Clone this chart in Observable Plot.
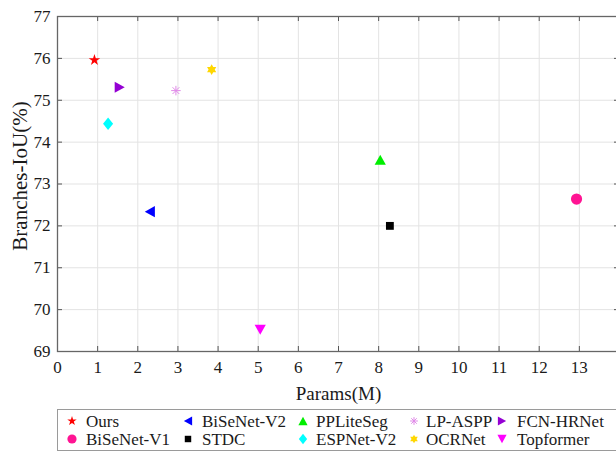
<!DOCTYPE html>
<html>
<head>
<meta charset="utf-8">
<script src="https://cdn.jsdelivr.net/npm/d3@7"></script>
<script src="https://cdn.jsdelivr.net/npm/@observablehq/plot@0.6"></script>
<style>
  html, body { margin: 0; padding: 0; background: #fff; }
  #chart svg { display: block; overflow: visible; }
</style>
</head>
<body>
<div id="chart"></div>
<script>
// ---- data ----
const methods = ["Ours", "BiSeNet-V1", "BiSeNet-V2", "STDC", "PPLiteSeg", "ESPNet-V2", "LP-ASPP", "OCRNet", "FCN-HRNet", "Topformer"];
const params  = [0.92, 12.93, 2.30, 8.28, 8.04, 1.26, 2.95, 3.84, 1.55, 5.05];
const miou    = [75.96, 72.64, 72.34, 72.00, 73.58, 74.44, 75.23, 75.73, 75.31, 69.52];
const xTicks  = [0, 1, 2, 3, 4, 5, 6, 7, 8, 9, 10, 11, 12, 13];
const yTicks  = [69, 70, 71, 72, 73, 74, 75, 76, 77];
// legend order (5 columns x 2 rows, column-major like MATLAB)
const legendOrder = ["Ours", "BiSeNet-V1", "BiSeNet-V2", "STDC", "PPLiteSeg", "ESPNet-V2", "LP-ASPP", "OCRNet", "FCN-HRNet", "Topformer"];

// ---- styles ----
const colors = {
  "Ours": "#ff0000", "BiSeNet-V1": "#ff1493", "BiSeNet-V2": "#0000ff", "STDC": "#000000",
  "PPLiteSeg": "#00ee00", "ESPNet-V2": "#00ffff", "LP-ASPP": "#e08ae8", "OCRNet": "#ffd700",
  "FCN-HRNet": "#9400d3", "Topformer": "#ff00ff"
};
const rad = s => Math.sqrt(s / Math.PI);
const poly = (ctx, pts) => { ctx.moveTo(pts[0][0], pts[0][1]); for (let i = 1; i < pts.length; i++) ctx.lineTo(pts[i][0], pts[i][1]); ctx.closePath(); };
const rot = (pts, a) => pts.map(([x, y]) => [x * Math.cos(a) - y * Math.sin(a), x * Math.sin(a) + y * Math.cos(a)]);
const tri = a => ({ draw(ctx, s) { const r = rad(s); poly(ctx, rot([[0, -r], [r, 0.8 * r], [-r, 0.8 * r]].map(([x, y]) => [x, y + 0.1 * r]), a)); } });
const pentagram = { draw(ctx, s) { const R = rad(s) * 1.08, ri = R * 0.382, pts = [];
  for (let i = 0; i < 10; i++) { const a = -Math.PI / 2 + i * Math.PI / 5, rr = i % 2 ? ri : R; pts.push([rr * Math.cos(a), rr * Math.sin(a)]); } poly(ctx, pts); } };
const hexagram = { draw(ctx, s) { const R = rad(s) * 0.95, c = 0.866 * R;
  poly(ctx, [[0, -R], [c, R / 2], [-c, R / 2]]); poly(ctx, [[0, R], [-c, -R / 2], [c, -R / 2]]); } };
const circ = { draw(ctx, s) { const r = rad(s); ctx.moveTo(r, 0); ctx.arc(0, 0, r, 0, 2 * Math.PI); } };
const sq = { draw(ctx, s) { const h = rad(s) * 0.7; poly(ctx, [[-h, -h], [h, -h], [h, h], [-h, h]]); } };
const diam = { draw(ctx, s) { const r = rad(s), w = 0.9 * r, h = 1.12 * r; poly(ctx, [[0, -h], [w, 0], [0, h], [-w, 0]]); } };
const aster = { draw(ctx, s) { const a = rad(s) * 0.85;
  for (let i = 0; i < 4; i++) { const t = i * Math.PI / 4; ctx.moveTo(a * Math.cos(t), a * Math.sin(t)); ctx.lineTo(-a * Math.cos(t), -a * Math.sin(t)); } } };
const shapes = {
  "Ours": pentagram, "BiSeNet-V1": circ, "BiSeNet-V2": tri(-Math.PI / 2), "STDC": sq,
  "PPLiteSeg": tri(0), "ESPNet-V2": diam, "LP-ASPP": aster, "OCRNet": hexagram,
  "FCN-HRNet": tri(Math.PI / 2), "Topformer": tri(Math.PI)
};
const R = 5.6;

const rows = methods.map((m, i) => ({ method: m, params: params[i], miou: miou[i] }));

const W = 616, H = 452, mL = 57, mT = 16, mB = 101, mR = -3;
const frameH = H - mT - mB, frameW = W - mL - mR;
const tickLen = 5;
const font = "'Liberation Serif', 'Times New Roman', serif";

const pointMarks = rows.map(d => d.method === "LP-ASPP"
  ? Plot.dot([d], { x: "params", y: "miou", r: R, symbol: shapes[d.method], stroke: colors[d.method], strokeWidth: 1, fill: "none" })
  : Plot.dot([d], { x: "params", y: "miou", r: R, symbol: shapes[d.method], fill: colors[d.method], stroke: "none" }));

const chart = Plot.plot({
  width: W, height: H,
  marginLeft: mL, marginTop: mT, marginBottom: mB, marginRight: mR,
  style: { fontFamily: font, fontSize: "17px", color: "#1a1a1a", background: "#fff" },
  x: { domain: [0, 14] },
  y: { domain: [69, 77] },
  marks: [
    Plot.gridX({ ticks: xTicks.concat([14]), stroke: "#e3e3e3", strokeOpacity: 1 }),
    Plot.gridY({ ticks: yTicks, stroke: "#e3e3e3", strokeOpacity: 1 }),
    Plot.axisX({ ticks: xTicks, tickSize: 0, tickPadding: 9, fontSize: 17, label: null, tickFormat: d => String(d) }),
    Plot.axisY({ ticks: yTicks, tickSize: 0, tickPadding: 7, fontSize: 17, label: null, tickFormat: d => String(d) }),
    Plot.ruleX(xTicks.concat([14]), { x: d => d, insetTop: frameH - tickLen, stroke: "#555" }),
    Plot.ruleX(xTicks.concat([14]), { x: d => d, insetBottom: frameH - tickLen, stroke: "#555" }),
    Plot.ruleY(yTicks, { y: d => d, insetRight: frameW - tickLen, stroke: "#555" }),
    Plot.ruleY(yTicks, { y: d => d, insetLeft: frameW - tickLen, stroke: "#555" }),
    Plot.frame({ stroke: "#666", strokeWidth: 1.3 }),
    ...pointMarks,
    Plot.text(["Params(M)"], { frameAnchor: "bottom", dy: 48, fontSize: 19, fill: "#1a1a1a" }),
    Plot.text(["Branches-IoU(%)"], { frameAnchor: "left", textAnchor: "middle", dx: -37, dy: -8, rotate: -90, fontSize: 21, fill: "#1a1a1a" })
  ]
});
document.getElementById("chart").appendChild(chart);

// ---- legend (drawn in the same SVG) ----
const svg = d3.select(chart);
const lg = svg.append("g").attr("font-family", font).attr("font-size", 17).attr("fill", "#1a1a1a").attr("text-anchor", "start");
lg.append("rect").attr("x", 57.5).attr("y", 409.5).attr("width", 570).attr("height", 41)
  .attr("fill", "#fff").attr("stroke", "#9a9a9a").attr("stroke-width", 1);
const colSym = [72, 188, 303, 414, 502];
const colTxt = [86, 202, 316, 426, 517];
const rowY = [421, 439];
legendOrder.forEach((m, i) => {
  const c = Math.floor(i / 2), r = i % 2;
  const p = d3.symbol(shapes[m], Math.PI * 4.6 * 4.6)();
  const g = lg.append("g").attr("transform", `translate(${colSym[c]},${rowY[r]})`);
  if (m === "LP-ASPP") g.append("path").attr("d", p).attr("fill", "none").attr("stroke", colors[m]).attr("stroke-width", 1);
  else g.append("path").attr("d", p).attr("fill", colors[m]);
  lg.append("text").attr("x", colTxt[c]).attr("y", rowY[r]).attr("dy", "0.35em").attr("text-anchor", "start").text(m);
});
</script>
</body>
</html>
